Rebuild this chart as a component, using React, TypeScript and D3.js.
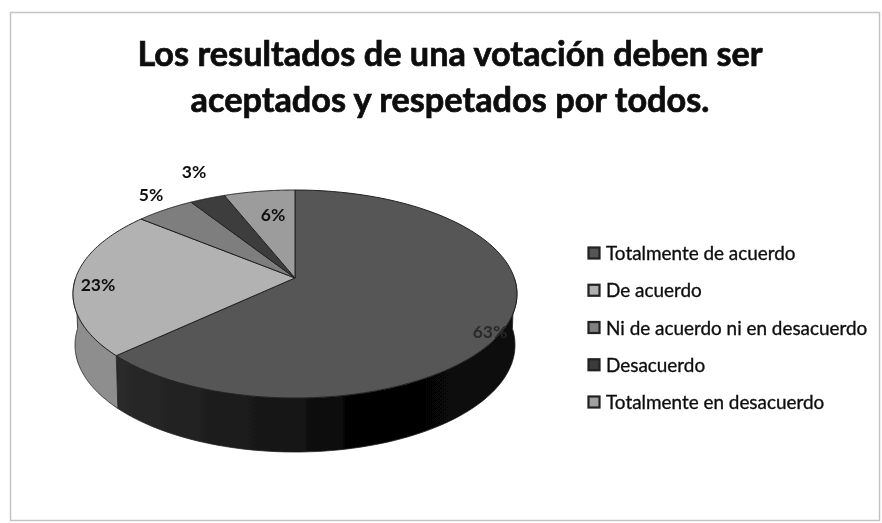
import React from "react";
import * as d3 from "d3";

const categories = ["Totalmente de acuerdo", "De acuerdo", "Ni de acuerdo ni en desacuerdo", "Desacuerdo", "Totalmente en desacuerdo"];
const values = [63, 23, 5, 3, 6];
const labels = ["63%", "23%", "5%", "3%", "6%"];
const topColors = ["#565656", "#b2b2b2", "#7e7e7e", "#3c3c3c", "#9c9c9c"];
const sideColors = ["#1c1c1c", "#8e8e8e", "#666666", "#222222", "#808080"];
const swatchColors = ["#555555", "#b0b0b0", "#808080", "#3a3a3a", "#a0a0a0"];
const titleLines = ["Los resultados de una votación deben ser", "aceptados y respetados por todos."];
const labelAt: [number, number][] = [[490, 338], [98, 291], [151, 201], [194, 178], [273, 221]];

const W = 882, H = 523;
const top = { cx: 295, cy: 294, rx: 222, ry: 104 };
const bot = { cx: 295, cy: 345, rx: 220, ry: 107 };
const a = 0.154;

function proj(t: number, e: typeof top): [number, number] {
  const u = Math.sin(t), v = Math.cos(t), k = 1 + a * v;
  return [e.cx + e.rx * (u * Math.sqrt(1 - a * a)) / k, e.cy - e.ry * (v + a) / k];
}

export default function App() {
  const pie = d3.pie<number>().sort(null).value(d => d)(values);
  const apex: [number, number] = [top.cx, top.cy - top.ry * a];
  const line = d3.line();
  const arcPts = (s: number, e0: number, ell: typeof top) =>
    d3.range(0, 81).map(i => proj(s + ((e0 - s) * i) / 80, ell));
  const sides = pie.map((p, i) => {
    const s = Math.max(p.startAngle, Math.PI / 2);
    const e = Math.min(p.endAngle, (3 * Math.PI) / 2);
    if (e <= s) return null;
    return <path key={i} d={line([...arcPts(s, e, top), ...arcPts(s, e, bot).reverse()])! + "Z"}
      fill={i === 0 ? "url(#sideDark)" : sideColors[i]} stroke="#222" strokeWidth={0.8} />;
  });
  return (
    <svg width={W} height={H} viewBox={`0 0 ${W} ${H}`}
      style={{ position: "fixed", left: 0, top: 0, display: "block", fontFamily: "Lato, sans-serif" }}>
      <defs>
        <linearGradient id="sideDark" x1="0" x2="1" y1="0" y2="0">
          <stop offset="0" stopColor="#2a2a2a" />
          <stop offset="0.45" stopColor="#141414" />
          <stop offset="0.6" stopColor="#030303" />
          <stop offset="1" stopColor="#0a0a0a" />
        </linearGradient>
        <filter id="scan" x="-5%" y="-5%" width="110%" height="110%">
          <feGaussianBlur stdDeviation="0.6" />
        </filter>
      </defs>
      <rect width={W} height={H} fill="#fff" />
      <rect x={10.5} y={12.5} width={869} height={508} fill="#fff" stroke="#c4c4c4" strokeWidth={1.5} />
      <g filter="url(#scan)">
        {titleLines.map((t, i) => (
          <text key={i} x={450} y={66 + i * 46} textAnchor="middle" fontSize={34.3} fontWeight={700}
            fill="#0a0a0a" stroke="#0a0a0a" strokeWidth={0.7}>{t}</text>
        ))}
        {sides}
        {pie.map((p, i) => (
          <path key={i} d={line([apex, ...arcPts(p.startAngle, p.endAngle, top)])! + "Z"}
            fill={topColors[i]} stroke="#222" strokeWidth={1} strokeLinejoin="round" />
        ))}
        {labels.map((l, i) => (
          <text key={i} x={labelAt[i][0]} y={labelAt[i][1]} textAnchor="middle" fontSize={17.5} fontWeight={700}
            fill={i === 0 ? "#2a2a2a" : "#111"}>{l}</text>
        ))}
        {categories.map((c, i) => {
          const y = d3.scalePoint<number>().domain(d3.range(5)).range([253, 402])(i)!;
          return (
            <g key={c}>
              <rect x={588.5} y={y - 5.5} width={11} height={11} fill={swatchColors[i]} stroke="#222" strokeWidth={2.2} />
              <text x={606} y={y + 7} fontSize={18.9} fill="#111" stroke="#111" strokeWidth={0.35}>{c}</text>
            </g>
          );
        })}
      </g>
    </svg>
  );
}
